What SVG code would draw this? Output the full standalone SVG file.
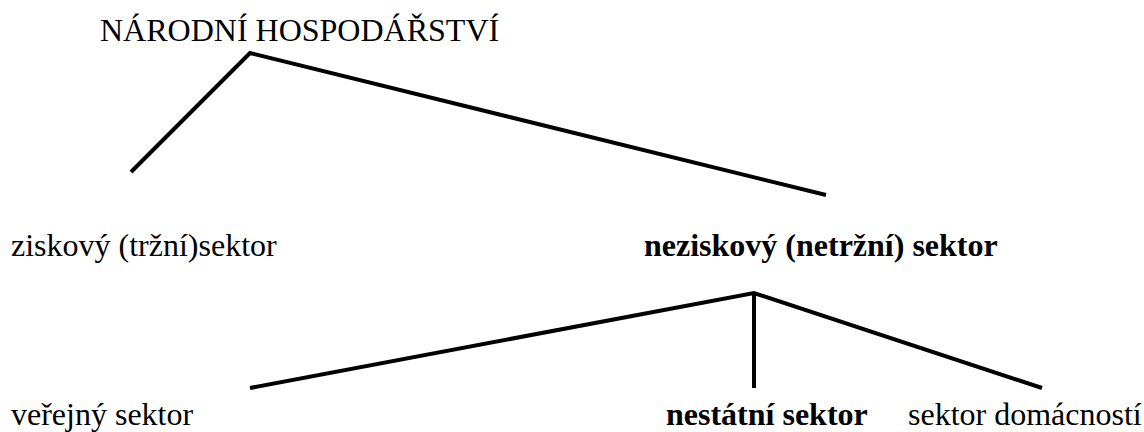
<svg xmlns="http://www.w3.org/2000/svg" width="1144" height="432" viewBox="0 0 1144 432">
<style>
text{font-family:'Liberation Serif','Times New Roman',Times,'DejaVu Serif',serif;font-size:32px;fill:#000}
.b{font-weight:bold}
.ln{stroke:#000;stroke-width:4;fill:none;stroke-linejoin:miter}
</style>
<rect width="1144" height="432" fill="#fff"/>
<g id="connectors">
<polyline class="ln" points="131,172 250,53 826,195"/>
<polyline class="ln" points="250,388 754,293 1042,388"/>
<line class="ln" x1="754" y1="293" x2="754" y2="388"/>
</g>
<g id="n-root"><text x="100" y="41" font-family="Liberation Serif, Times New Roman, serif">NÁRODNÍ HOSPODÁŘSTVÍ</text></g>
<g id="n-ziskovy"><text x="11" y="256" font-family="Liberation Serif, Times New Roman, serif">ziskový (tržní)sektor</text></g>
<g id="n-neziskovy"><text class="b" x="644" y="256" font-family="Liberation Serif, Times New Roman, serif">neziskový (netržní) sektor</text></g>
<g id="n-verejny"><text x="11" y="425" font-family="Liberation Serif, Times New Roman, serif">veřejný sektor</text></g>
<g id="n-nestatni"><text class="b" x="666" y="425" font-family="Liberation Serif, Times New Roman, serif">nestátní sektor</text></g>
<g id="n-domacnosti"><text x="908" y="425" font-family="Liberation Serif, Times New Roman, serif">sektor domácností</text></g>
</svg>
